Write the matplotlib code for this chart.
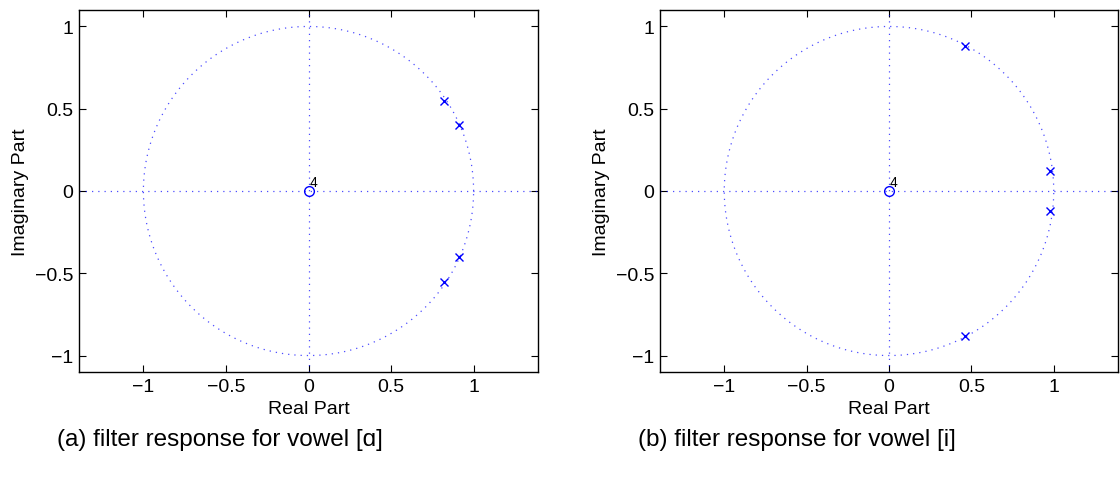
import matplotlib.pyplot as plt
import numpy as np

plt.rcParams['font.family'] = ['Liberation Sans', 'DejaVu Sans']

# poles (upper half; conjugates are added below) and zeros
poles_a = [(0.82, 0.55), (0.91, 0.40)]
poles_i = [(0.46, 0.88), (0.976, 0.12)]
zero_mult = 4
captions = ["(a) filter response for vowel [\u0251]", "(b) filter response for vowel [i]"]
xticks = [-1, -0.5, 0, 0.5, 1]
yticks = [-1, -0.5, 0, 0.5, 1]
ticklabels = ["\u22121", "\u22120.5", "0", "0.5", "1"]

fig = plt.figure(figsize=(11.2, 4.89), dpi=100)
ax1 = fig.add_axes([79/1120, 1-373/489, 459/1120, 362/489])
ax2 = fig.add_axes([660/1120, 1-373/489, 458/1120, 362/489])

t = np.linspace(0, 2*np.pi, 400)
blue = '#0000ff'
dot = (0, (1, 4))

for ax, poles, cap in [(ax1, poles_a, captions[0]), (ax2, poles_i, captions[1])]:
    ax.plot(np.cos(t), np.sin(t), ls=dot, color=blue, lw=0.9, alpha=0.7)
    ax.axhline(0, ls=dot, color=blue, lw=0.9, alpha=0.7)
    ax.axvline(0, ls=dot, color=blue, lw=0.9, alpha=0.7)
    pr = [p[0] for p in poles] + [p[0] for p in poles]
    pi = [p[1] for p in poles] + [-p[1] for p in poles]
    ax.plot(pr, pi, 'x', color=blue, ms=6, mew=1.0)
    ax.plot([0], [0], 'o', mfc='none', mec=blue, ms=7, mew=1.0)
    ax.text(0.005, 0.01, str(zero_mult), fontsize=10, ha='left', va='bottom')
    ax.set_xlim(-1.39, 1.39)
    ax.set_ylim(-1.1, 1.1)
    ax.set_xticks(xticks)
    ax.set_xticklabels(ticklabels)
    ax.set_yticks(yticks)
    ax.set_yticklabels(ticklabels)
    ax.tick_params(direction='in', top=True, right=True, labelsize=14, length=5, pad=4)
    ax.set_xlabel("Real Part", fontsize=14, labelpad=4)
    ax.set_ylabel("Imaginary Part", fontsize=14, labelpad=4)
    for s in ax.spines.values():
        s.set_linewidth(1.0)
    bb = ax.get_position()
    fig.text(bb.x0 - 0.02, 1-440/489, cap, fontsize=17.5, ha='left', va='center')

fig.savefig("out.png", dpi=100)
